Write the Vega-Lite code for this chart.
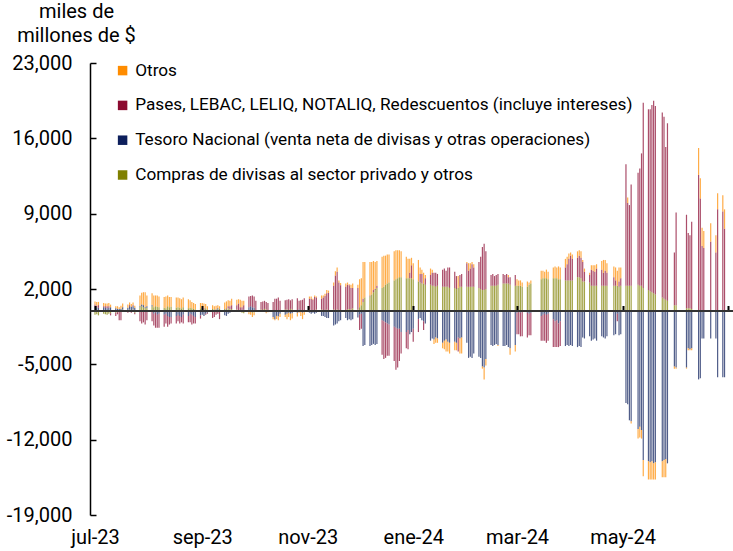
{
"$schema":"https://vega.github.io/schema/vega-lite/v6.json",
"width":643,"height":452,
"autosize":{"type":"none"},
"padding":{"left":90,"top":63,"right":0,"bottom":36},
"config":{"view":{"stroke":null},"font":"Roboto","locale":{"number":{"decimal":".","thousands":",","grouping":[3],"currency":["$",""],"minus":"-"}}},
"datasets":{
"series":[
{"k":"c","name":"Compras de divisas al sector privado y otros","rank":1},
{"k":"t","name":"Tesoro Nacional (venta neta de divisas y otras operaciones)","rank":2},
{"k":"p","name":"Pases, LEBAC, LELIQ, NOTALIQ, Redescuentos (incluye intereses)","rank":3},
{"k":"o","name":"Otros","rank":4}],
"days":[
{"d":"2023-07-01","c":-400,"t":350,"p":200,"o":300},
{"d":"2023-07-02","c":-350,"t":300,"p":150,"o":350},
{"d":"2023-07-03","c":-450,"t":250,"p":250,"o":300},
{"d":"2023-07-06","c":-300,"t":300,"p":100,"o":300},
{"d":"2023-07-07","c":-350,"t":250,"p":150,"o":250},
{"d":"2023-07-08","c":-400,"t":200,"p":200,"o":250},
{"d":"2023-07-09","c":-300,"t":250,"p":150,"o":300},
{"d":"2023-07-10","c":-250,"t":300,"p":-200,"o":250},
{"d":"2023-07-13","c":-200,"t":200,"p":-300,"o":200},
{"d":"2023-07-14","c":-150,"t":150,"p":-200,"o":250},
{"d":"2023-07-15","c":50,"t":100,"p":-900,"o":150},
{"d":"2023-07-16","c":-100,"t":150,"p":-800,"o":300},
{"d":"2023-07-17","c":100,"t":200,"p":-100,"o":350},
{"d":"2023-07-20","c":-50,"t":250,"p":-150,"o":300},
{"d":"2023-07-21","c":100,"t":300,"p":100,"o":250},
{"d":"2023-07-22","c":-100,"t":350,"p":-100,"o":250},
{"d":"2023-07-23","c":100,"t":300,"p":100,"o":250},
{"d":"2023-07-24","c":-200,"t":250,"p":-150,"o":200},
{"d":"2023-07-27","c":300,"t":100,"p":-1000,"o":1000},
{"d":"2023-07-28","c":400,"t":150,"p":-1200,"o":1100},
{"d":"2023-07-29","c":300,"t":200,"p":-1100,"o":1200},
{"d":"2023-07-30","c":200,"t":100,"p":-1300,"o":1400},
{"d":"2023-07-31","c":250,"t":150,"p":-900,"o":1000},
{"d":"2023-08-03","c":400,"t":100,"p":-1000,"o":1100},
{"d":"2023-08-04","c":300,"t":-300,"p":-1100,"o":1100},
{"d":"2023-08-05","c":400,"t":-200,"p":-1400,"o":1000},
{"d":"2023-08-06","c":350,"t":-400,"p":-1200,"o":1050},
{"d":"2023-08-07","c":300,"t":-300,"p":-1300,"o":1000},
{"d":"2023-08-10","c":250,"t":-400,"p":-1100,"o":1000},
{"d":"2023-08-11","c":200,"t":-300,"p":-900,"o":1100},
{"d":"2023-08-12","c":400,"t":-500,"p":-1000,"o":1000},
{"d":"2023-08-13","c":300,"t":-600,"p":-700,"o":950},
{"d":"2023-08-14","c":350,"t":-600,"p":-600,"o":900},
{"d":"2023-08-17","c":250,"t":-500,"p":-700,"o":950},
{"d":"2023-08-18","c":300,"t":-400,"p":-600,"o":900},
{"d":"2023-08-19","c":250,"t":-500,"p":-700,"o":900},
{"d":"2023-08-20","c":200,"t":-600,"p":-500,"o":850},
{"d":"2023-08-21","c":300,"t":-400,"p":-800,"o":900},
{"d":"2023-08-24","c":200,"t":-500,"p":-600,"o":850},
{"d":"2023-08-25","c":250,"t":-300,"p":-800,"o":700},
{"d":"2023-08-26","c":200,"t":-400,"p":-900,"o":600},
{"d":"2023-08-27","c":150,"t":-500,"p":-700,"o":550},
{"d":"2023-08-28","c":100,"t":-600,"p":-600,"o":500},
{"d":"2023-08-31","c":200,"t":-450,"p":-300,"o":500},
{"d":"2023-09-01","c":150,"t":-400,"p":50,"o":500},
{"d":"2023-09-02","c":100,"t":-500,"p":100,"o":450},
{"d":"2023-09-03","c":200,"t":-300,"p":-100,"o":400},
{"d":"2023-09-04","c":100,"t":-200,"p":-100,"o":300},
{"d":"2023-09-07","c":150,"t":-100,"p":-600,"o":350},
{"d":"2023-09-08","c":100,"t":-100,"p":-500,"o":300},
{"d":"2023-09-09","c":50,"t":50,"p":-400,"o":350},
{"d":"2023-09-10","c":100,"t":100,"p":-300,"o":300},
{"d":"2023-09-11","c":150,"t":-100,"p":-700,"o":250},
{"d":"2023-09-14","c":150,"t":-450,"p":0,"o":600},
{"d":"2023-09-15","c":100,"t":-500,"p":100,"o":650},
{"d":"2023-09-16","c":200,"t":-300,"p":200,"o":550},
{"d":"2023-09-17","c":100,"t":-200,"p":300,"o":500},
{"d":"2023-09-18","c":150,"t":-100,"p":350,"o":600},
{"d":"2023-09-21","c":100,"t":-100,"p":400,"o":500},
{"d":"2023-09-22","c":50,"t":-50,"p":600,"o":400},
{"d":"2023-09-23","c":-100,"t":50,"p":250,"o":700},
{"d":"2023-09-24","c":-200,"t":0,"p":300,"o":600},
{"d":"2023-09-25","c":-250,"t":100,"p":400,"o":400},
{"d":"2023-09-28","c":-150,"t":300,"p":1000,"o":-200},
{"d":"2023-09-29","c":-100,"t":400,"p":950,"o":-300},
{"d":"2023-09-30","c":-200,"t":300,"p":1100,"o":-400},
{"d":"2023-10-01","c":-150,"t":250,"p":1050,"o":-300},
{"d":"2023-10-02","c":0,"t":-100,"p":900,"o":0},
{"d":"2023-10-05","c":100,"t":-100,"p":700,"o":0},
{"d":"2023-10-06","c":50,"t":-50,"p":800,"o":0},
{"d":"2023-10-07","c":150,"t":-100,"p":750,"o":0},
{"d":"2023-10-08","c":100,"t":-150,"p":700,"o":-100},
{"d":"2023-10-09","c":50,"t":-100,"p":650,"o":-50},
{"d":"2023-10-12","c":0,"t":-600,"p":800,"o":-200},
{"d":"2023-10-13","c":-100,"t":-700,"p":1100,"o":-100},
{"d":"2023-10-14","c":0,"t":-500,"p":1100,"o":-300},
{"d":"2023-10-15","c":-100,"t":-450,"p":1200,"o":-350},
{"d":"2023-10-16","c":0,"t":-300,"p":900,"o":-300},
{"d":"2023-10-19","c":100,"t":-400,"p":850,"o":-200},
{"d":"2023-10-20","c":100,"t":-300,"p":900,"o":-500},
{"d":"2023-10-21","c":50,"t":-200,"p":1000,"o":-400},
{"d":"2023-10-22","c":150,"t":-300,"p":800,"o":-600},
{"d":"2023-10-23","c":100,"t":-250,"p":950,"o":-500},
{"d":"2023-10-26","c":50,"t":-200,"p":1100,"o":-350},
{"d":"2023-10-27","c":0,"t":100,"p":800,"o":-200},
{"d":"2023-10-28","c":50,"t":-100,"p":900,"o":-400},
{"d":"2023-10-29","c":0,"t":-200,"p":1000,"o":-600},
{"d":"2023-10-30","c":50,"t":-100,"p":1100,"o":-300},
{"d":"2023-11-02","c":100,"t":-200,"p":1000,"o":200},
{"d":"2023-11-03","c":0,"t":-300,"p":1100,"o":200},
{"d":"2023-11-04","c":0,"t":-200,"p":1000,"o":100},
{"d":"2023-11-05","c":50,"t":-300,"p":1200,"o":150},
{"d":"2023-11-06","c":100,"t":-200,"p":1100,"o":100},
{"d":"2023-11-09","c":100,"t":-500,"p":1000,"o":300},
{"d":"2023-11-10","c":0,"t":-500,"p":1200,"o":200},
{"d":"2023-11-11","c":50,"t":-600,"p":1300,"o":200},
{"d":"2023-11-12","c":100,"t":-700,"p":1500,"o":300},
{"d":"2023-11-13","c":50,"t":-700,"p":1600,"o":200},
{"d":"2023-11-16","c":100,"t":-1400,"p":2200,"o":300},
{"d":"2023-11-17","c":50,"t":-1300,"p":3200,"o":400},
{"d":"2023-11-18","c":100,"t":-1200,"p":3500,"o":400},
{"d":"2023-11-19","c":0,"t":-1000,"p":2600,"o":200},
{"d":"2023-11-20","c":50,"t":-900,"p":2300,"o":200},
{"d":"2023-11-23","c":0,"t":-700,"p":2200,"o":300},
{"d":"2023-11-24","c":100,"t":-900,"p":2300,"o":200},
{"d":"2023-11-25","c":150,"t":-800,"p":2200,"o":100},
{"d":"2023-11-26","c":100,"t":-900,"p":2000,"o":300},
{"d":"2023-11-27","c":200,"t":-800,"p":1900,"o":400},
{"d":"2023-11-30","c":100,"t":-650,"p":2000,"o":300},
{"d":"2023-12-01","c":300,"t":-400,"p":-1400,"o":2600},
{"d":"2023-12-02","c":500,"t":-300,"p":-1400,"o":2500},
{"d":"2023-12-03","c":800,"t":-3300,"p":300,"o":3400},
{"d":"2023-12-04","c":1200,"t":-3200,"p":0,"o":3300},
{"d":"2023-12-07","c":1300,"t":-3300,"p":100,"o":3100},
{"d":"2023-12-08","c":1500,"t":-3200,"p":0,"o":3000},
{"d":"2023-12-09","c":1700,"t":-3100,"p":200,"o":2700},
{"d":"2023-12-10","c":1900,"t":-3200,"p":100,"o":2500},
{"d":"2023-12-11","c":2100,"t":-3100,"p":200,"o":2300},
{"d":"2023-12-14","c":2100,"t":-900,"p":-3200,"o":2900},
{"d":"2023-12-15","c":2200,"t":-1000,"p":-3500,"o":2900},
{"d":"2023-12-16","c":2400,"t":-1100,"p":-3300,"o":2700},
{"d":"2023-12-17","c":2500,"t":-1200,"p":-3000,"o":2700},
{"d":"2023-12-18","c":2600,"t":-1300,"p":-2900,"o":2600},
{"d":"2023-12-21","c":2800,"t":-1500,"p":-3200,"o":2700},
{"d":"2023-12-22","c":2900,"t":-1600,"p":-3900,"o":2700},
{"d":"2023-12-23","c":3000,"t":-1700,"p":-3600,"o":2600},
{"d":"2023-12-24","c":3100,"t":-1700,"p":-3000,"o":2500},
{"d":"2023-12-25","c":3100,"t":-2000,"p":-2000,"o":2400},
{"d":"2023-12-28","c":3000,"t":-2000,"p":-1500,"o":2000},
{"d":"2023-12-29","c":3000,"t":-1800,"p":-1800,"o":1800},
{"d":"2023-12-30","c":3000,"t":-2200,"p":500,"o":1300},
{"d":"2023-12-31","c":3000,"t":-2000,"p":1200,"o":700},
{"d":"2024-01-01","c":2900,"t":-1700,"p":-1200,"o":1500},
{"d":"2024-01-04","c":2700,"t":-800,"p":-1200,"o":2000},
{"d":"2024-01-05","c":2600,"t":-700,"p":800,"o":600},
{"d":"2024-01-06","c":2500,"t":-900,"p":900,"o":400},
{"d":"2024-01-07","c":2500,"t":-1000,"p":-800,"o":1000},
{"d":"2024-01-08","c":2400,"t":-1200,"p":600,"o":300},
{"d":"2024-01-11","c":2400,"t":-2800,"p":900,"o":600},
{"d":"2024-01-12","c":2300,"t":-2600,"p":1200,"o":300},
{"d":"2024-01-13","c":2300,"t":-2700,"p":1200,"o":-400},
{"d":"2024-01-14","c":2200,"t":-2500,"p":1300,"o":-500},
{"d":"2024-01-15","c":2300,"t":-2600,"p":1100,"o":-400},
{"d":"2024-01-18","c":2200,"t":-3000,"p":1600,"o":-500},
{"d":"2024-01-19","c":2200,"t":-2800,"p":1700,"o":-800},
{"d":"2024-01-20","c":2200,"t":-2700,"p":1500,"o":-1100},
{"d":"2024-01-21","c":2200,"t":-2900,"p":1800,"o":-900},
{"d":"2024-01-22","c":2100,"t":-3000,"p":1900,"o":-1000},
{"d":"2024-01-25","c":2100,"t":-2900,"p":1500,"o":-800},
{"d":"2024-01-26","c":2000,"t":-3000,"p":1200,"o":-700},
{"d":"2024-01-27","c":2100,"t":-2500,"p":-1300,"o":1100},
{"d":"2024-01-28","c":2200,"t":-2600,"p":1100,"o":-1400},
{"d":"2024-01-29","c":2200,"t":-2500,"p":1200,"o":-1500},
{"d":"2024-02-01","c":2200,"t":-3000,"p":2200,"o":100},
{"d":"2024-02-02","c":2200,"t":-4400,"p":1500,"o":700},
{"d":"2024-02-03","c":2200,"t":-4300,"p":1700,"o":500},
{"d":"2024-02-04","c":2200,"t":-4400,"p":2100,"o":200},
{"d":"2024-02-05","c":2200,"t":-4000,"p":1800,"o":300},
{"d":"2024-02-08","c":2100,"t":-4300,"p":2400,"o":0},
{"d":"2024-02-09","c":2000,"t":-4400,"p":3000,"o":0},
{"d":"2024-02-10","c":1900,"t":-5200,"p":4000,"o":-200},
{"d":"2024-02-11","c":1900,"t":-5300,"p":4300,"o":-1100},
{"d":"2024-02-12","c":2000,"t":-4500,"p":3500,"o":-600},
{"d":"2024-02-15","c":2300,"t":-3200,"p":1000,"o":0},
{"d":"2024-02-16","c":2300,"t":-3300,"p":1100,"o":0},
{"d":"2024-02-17","c":2300,"t":-3200,"p":900,"o":0},
{"d":"2024-02-18","c":2300,"t":-3100,"p":1000,"o":0},
{"d":"2024-02-19","c":2400,"t":-3200,"p":1000,"o":-100},
{"d":"2024-02-22","c":2500,"t":-3300,"p":900,"o":0},
{"d":"2024-02-23","c":2500,"t":-3300,"p":800,"o":0},
{"d":"2024-02-24","c":2500,"t":-3200,"p":900,"o":0},
{"d":"2024-02-25","c":2500,"t":-3400,"p":600,"o":200},
{"d":"2024-02-26","c":2400,"t":-3500,"p":700,"o":-600},
{"d":"2024-02-29","c":2300,"t":-3200,"p":1000,"o":-600},
{"d":"2024-03-01","c":2300,"t":-200,"p":-2000,"o":600},
{"d":"2024-03-02","c":2300,"t":-100,"p":-2100,"o":500},
{"d":"2024-03-03","c":2300,"t":-200,"p":-2200,"o":500},
{"d":"2024-03-04","c":2200,"t":-100,"p":-2300,"o":400},
{"d":"2024-03-07","c":2200,"t":-200,"p":-2300,"o":500},
{"d":"2024-03-08","c":2400,"t":-300,"p":-2000,"o":200},
{"d":"2024-03-09","c":2500,"t":-200,"p":-2100,"o":300},
{"d":"2024-03-15","c":2900,"t":-500,"p":-2300,"o":800},
{"d":"2024-03-16","c":3000,"t":-400,"p":-2400,"o":700},
{"d":"2024-03-17","c":3000,"t":-300,"p":-2500,"o":600},
{"d":"2024-03-18","c":3000,"t":-400,"p":-2600,"o":800},
{"d":"2024-03-19","c":2900,"t":-300,"p":-2500,"o":700},
{"d":"2024-03-22","c":3000,"t":-800,"p":-2600,"o":1000},
{"d":"2024-03-23","c":3000,"t":-1000,"p":-2400,"o":1100},
{"d":"2024-03-24","c":3000,"t":-900,"p":-2500,"o":1000},
{"d":"2024-03-25","c":2900,"t":-1200,"p":-2200,"o":1200},
{"d":"2024-03-26","c":2900,"t":-1000,"p":-2300,"o":1100},
{"d":"2024-03-29","c":2800,"t":-3300,"p":1200,"o":800},
{"d":"2024-03-30","c":2800,"t":-3200,"p":1500,"o":700},
{"d":"2024-03-31","c":2800,"t":-3300,"p":2000,"o":500},
{"d":"2024-04-01","c":2800,"t":-3200,"p":2300,"o":300},
{"d":"2024-04-02","c":2800,"t":-3300,"p":2000,"o":400},
{"d":"2024-04-05","c":3100,"t":-3400,"p":1800,"o":600},
{"d":"2024-04-06","c":3100,"t":-3300,"p":2000,"o":500},
{"d":"2024-04-07","c":3000,"t":-3400,"p":1900,"o":600},
{"d":"2024-04-08","c":2700,"t":-2500,"p":1800,"o":200},
{"d":"2024-04-09","c":2700,"t":-2600,"p":900,"o":300},
{"d":"2024-04-12","c":2600,"t":-2400,"p":700,"o":200},
{"d":"2024-04-13","c":2300,"t":-2800,"p":1500,"o":400},
{"d":"2024-04-14","c":2300,"t":-2700,"p":1400,"o":500},
{"d":"2024-04-15","c":2300,"t":-2600,"p":1300,"o":600},
{"d":"2024-04-16","c":2300,"t":-2800,"p":1600,"o":400},
{"d":"2024-04-19","c":2300,"t":-2400,"p":1500,"o":800},
{"d":"2024-04-20","c":2300,"t":-2500,"p":1200,"o":1200},
{"d":"2024-04-21","c":2300,"t":-2600,"p":1400,"o":1000},
{"d":"2024-04-22","c":2300,"t":-2400,"p":1200,"o":900},
{"d":"2024-04-26","c":2300,"t":-2300,"p":800,"o":1000},
{"d":"2024-04-27","c":2300,"t":-2200,"p":500,"o":1200},
{"d":"2024-04-28","c":2300,"t":-300,"p":-700,"o":1400},
{"d":"2024-04-29","c":2200,"t":-2300,"p":500,"o":1300},
{"d":"2024-04-30","c":2300,"t":-2200,"p":700,"o":1000},
{"d":"2024-05-03","c":2300,"t":-8600,"p":11300,"o":0},
{"d":"2024-05-04","c":2300,"t":-8700,"p":7700,"o":500},
{"d":"2024-05-05","c":2300,"t":-10200,"p":7500,"o":0},
{"d":"2024-05-06","c":2300,"t":-10300,"p":9400,"o":-200},
{"d":"2024-05-10","c":2400,"t":-11000,"p":10400,"o":-900},
{"d":"2024-05-11","c":2300,"t":-10800,"p":10900,"o":-1000},
{"d":"2024-05-12","c":2300,"t":-11100,"p":12300,"o":-800},
{"d":"2024-05-13","c":2100,"t":-13900,"p":17200,"o":-1500},
{"d":"2024-05-16","c":1900,"t":-14000,"p":16800,"o":-1700},
{"d":"2024-05-17","c":1800,"t":-14100,"p":16900,"o":-1600},
{"d":"2024-05-18","c":1700,"t":-14000,"p":17400,"o":-1700},
{"d":"2024-05-19","c":1600,"t":-14200,"p":17900,"o":-1500},
{"d":"2024-05-20","c":1500,"t":-14100,"p":17500,"o":-1600},
{"d":"2024-05-24","c":1200,"t":-14000,"p":17200,"o":-1500},
{"d":"2024-05-25","c":1100,"t":-13900,"p":16900,"o":-1600},
{"d":"2024-05-26","c":1000,"t":-13800,"p":14200,"o":-1700},
{"d":"2024-05-27","c":900,"t":-14200,"p":16500,"o":0},
{"d":"2024-05-31","c":500,"t":-5200,"p":4900,"o":-200},
{"d":"2024-06-01","c":500,"t":-5300,"p":8600,"o":-100},
{"d":"2024-06-07","c":200,"t":-5300,"p":8700,"o":-100},
{"d":"2024-06-08","c":200,"t":-3500,"p":7000,"o":-200},
{"d":"2024-06-09","c":200,"t":-3600,"p":6800,"o":-100},
{"d":"2024-06-10","c":150,"t":-3500,"p":8100,"o":-200},
{"d":"2024-06-14","c":0,"t":-6400,"p":12600,"o":2500},
{"d":"2024-06-15","c":0,"t":-6300,"p":10400,"o":1900},
{"d":"2024-06-16","c":0,"t":-2600,"p":6000,"o":1700},
{"d":"2024-06-17","c":0,"t":-2600,"p":5800,"o":1600},
{"d":"2024-06-21","c":0,"t":-2600,"p":6400,"o":1700},
{"d":"2024-06-24","c":0,"t":-2600,"p":5400,"o":1600},
{"d":"2024-06-25","c":0,"t":-6200,"p":9400,"o":1500},
{"d":"2024-06-28","c":0,"t":-6200,"p":9200,"o":1500},
{"d":"2024-06-29","c":0,"t":-6200,"p":7600,"o":1800}
]},
"data":{"name":"days"},
"transform":[
{"fold":["c","t","p","o"],"as":["k","v"]},
{"lookup":"k","from":{"data":{"name":"series"},"key":"k","fields":["name","rank"]}}
],
"mark":{"type":"bar","width":1.2,"opacity":0.72},
"encoding":{
"x":{"field":"d","type":"temporal",
 "scale":{"type":"utc","domain":[{"year":2023,"month":7,"date":1,"utc":true},{"year":2024,"month":7,"date":1,"utc":true}]},
 "axis":{"orient":"bottom","offset":-204.5,"title":null,"grid":false,
  "values":[{"year":2023,"month":7,"date":1,"utc":true},{"year":2023,"month":9,"date":1,"utc":true},{"year":2023,"month":11,"date":1,"utc":true},{"year":2024,"month":1,"date":1,"utc":true},{"year":2024,"month":3,"date":1,"utc":true},{"year":2024,"month":5,"date":1,"utc":true},{"year":2024,"month":7,"date":1,"utc":true}],
  "labelExpr":"utcyear(datum.value)==2024 && utcmonth(datum.value)==6 ? '' : ['ene','feb','mar','abr','may','jun','jul','ago','sep','oct','nov','dic'][utcmonth(datum.value)] + '-' + utcFormat(datum.value, '%y')",
  "domainColor":"#333333","domainWidth":2,"tickColor":"#000","tickWidth":2,"tickSize":-5,
  "labelPadding":222,"labelFontSize":20,"labelColor":"#000","labelFlush":false,"labelOverlap":false,"zindex":1}},
"y":{"field":"v","type":"quantitative","stack":"zero",
 "scale":{"domain":[-19000,23000],"nice":false,"zero":false},
 "axis":{"values":[-19000,-12000,-5000,2000,9000,16000,23000],"format":",d","grid":false,
  "domainColor":"#000","domainWidth":1.5,"tickColor":"#000","tickSize":-6,"tickWidth":1.5,
  "labelPadding":24,"labelFontSize":20,"labelColor":"#000","labelFlush":false,
  "title":["miles de","millones de $"],"titleAngle":0,"titleAlign":"center","titleBaseline":"alphabetic",
  "titleX":-14,"titleY":-46,"titleFontSize":20,"titleFontWeight":"normal","titleColor":"#000","titleLineHeight":24}},
"color":{"field":"name","type":"nominal",
 "scale":{"domain":["Otros","Pases, LEBAC, LELIQ, NOTALIQ, Redescuentos (incluye intereses)","Tesoro Nacional (venta neta de divisas y otras operaciones)","Compras de divisas al sector privado y otros"],
  "range":["#FF8C00","#8B0A30","#0D1F5C","#7F8000"]},
 "legend":{"orient":"none","legendX":24,"legendY":-1,"title":null,"padding":0,"rowPadding":16.8,
  "symbolType":"square","symbolSize":90,"symbolOpacity":1,"symbolStrokeWidth":0,
  "labelFontSize":17.2,"labelColor":"#000","labelOffset":4,"labelLimit":700}},
"order":{"field":"rank","type":"quantitative"}
}
}
